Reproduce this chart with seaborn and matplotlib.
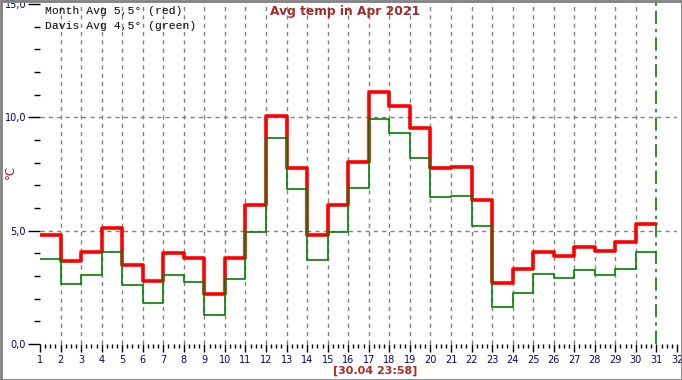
import matplotlib
matplotlib.use("Agg")
import matplotlib.pyplot as plt
from matplotlib.ticker import MultipleLocator, FixedLocator
from matplotlib.patches import Rectangle
import seaborn as sns
import pandas as pd

days = list(range(1, 31))
month_avg = [4.80, 3.66, 4.05, 5.12, 3.48, 2.78, 4.01, 3.79, 2.22, 3.79,
             6.12, 10.04, 7.75, 4.80, 6.12, 8.02, 11.10, 10.48, 9.52, 7.75,
             7.80, 6.34, 2.70, 3.33, 4.08, 3.89, 4.27, 4.10, 4.49, 5.30]
davis_avg = [3.73, 2.63, 3.03, 4.04, 2.59, 1.79, 3.03, 2.72, 1.26, 2.85,
             4.96, 9.10, 6.83, 3.69, 4.96, 6.90, 9.94, 9.31, 8.22, 6.50,
             6.55, 5.20, 1.62, 2.23, 3.11, 2.89, 3.26, 3.03, 3.29, 4.04]
x_ticks = list(range(1, 33))
y_ticks = [0, 5, 10, 15]
y_tick_labels = ["0,0", "5,0", "10,0", "15,0"]
title = "Avg temp in Apr 2021"
legend_lines = ["Month Avg 5,5° (red)", "Davis Avg 4,5° (green)"]
stamp = "[30.04 23:58]"
unit = "°C"
now_day = 31

sns.set_style("white")
plt.rcParams['font.family'] = ['DejaVu Sans']

# step tables (last value held to the end of the day)
red_df = pd.DataFrame({"day": days + [days[-1] + 1], "t": month_avg + [month_avg[-1]]})
green_df = pd.DataFrame({"day": days + [days[-1] + 1], "t": davis_avg + [davis_avg[-1]]})

fig = plt.figure(figsize=(6.82, 3.80), dpi=100)
ax = fig.add_axes([40 / 682, 36 / 380, 637 / 682, 340 / 380])
ax.set_xlim(1, 32)
ax.set_ylim(0, 15)

grid_kw = dict(color="#808080", linewidth=1, linestyle=(0, (3, 3)), zorder=1)
for d in range(2, 31):
    ax.axvline(d, **grid_kw)
for v in (5, 10):
    ax.axhline(v, **grid_kw)

sns.lineplot(data=green_df, x="day", y="t", ax=ax, color="#008000", linewidth=1.2,
             drawstyle="steps-post", estimator=None, sort=False, zorder=3)
sns.lineplot(data=red_df, x="day", y="t", ax=ax, color="#ff0000", linewidth=2.6,
             drawstyle="steps-post", estimator=None, sort=False, zorder=2)

ax.axvline(now_day, ymin=0, ymax=1.012, color="#008000", linewidth=1.2,
           linestyle=(0, (8, 3, 2, 3)), clip_on=False, zorder=4)

for s in ax.spines.values():
    s.set_visible(False)

ax.xaxis.set_major_locator(FixedLocator(x_ticks))
ax.xaxis.set_minor_locator(MultipleLocator(0.25))
ax.set_xticklabels([str(d) for d in x_ticks])
ax.yaxis.set_major_locator(FixedLocator(y_ticks))
ax.yaxis.set_minor_locator(MultipleLocator(1))
ax.set_yticklabels(y_tick_labels)
ax.tick_params(axis="both", which="both", bottom=True, left=True, top=False, right=False)
ax.tick_params(axis="x", which="major", direction="out", length=6, width=1,
               color="black", labelcolor="#000080", labelsize=7, pad=2)
ax.tick_params(axis="x", which="minor", direction="out", length=3, width=1, color="black")
ax.tick_params(axis="y", which="major", direction="out", length=9, width=1,
               color="black", labelcolor="#000080", labelsize=7, pad=1)
ax.tick_params(axis="y", which="minor", direction="out", length=4, width=1, color="black")
ax.set_xlabel("")
ax.set_ylabel("")

fig.text(10 / 682, 1 - 172 / 380, unit, color="#8b1a1a", fontsize=8.5,
         rotation=90, ha="center", va="center")
fig.text(345 / 682, 1 - 12 / 380, title, color="#a52a2a", fontsize=8.8,
         fontweight="bold", ha="center", va="center")
for i, line in enumerate(legend_lines):
    fig.text(45 / 682, 1 - (11 + 15 * i) / 380, line, family="Liberation Mono",
             fontsize=8.2, color="black", ha="left", va="center")
fig.text(375 / 682, 1 - 371 / 380, stamp, color="#a52a2a", fontsize=8,
         fontweight="bold", ha="center", va="center")

fig.patches.append(Rectangle((0.5 / 682, 0.5 / 380), 1 - 1 / 682, 1 - 1 / 380,
                             transform=fig.transFigure, fill=False,
                             edgecolor="#808080", linewidth=2))

fig.savefig("out.png", dpi=100)
